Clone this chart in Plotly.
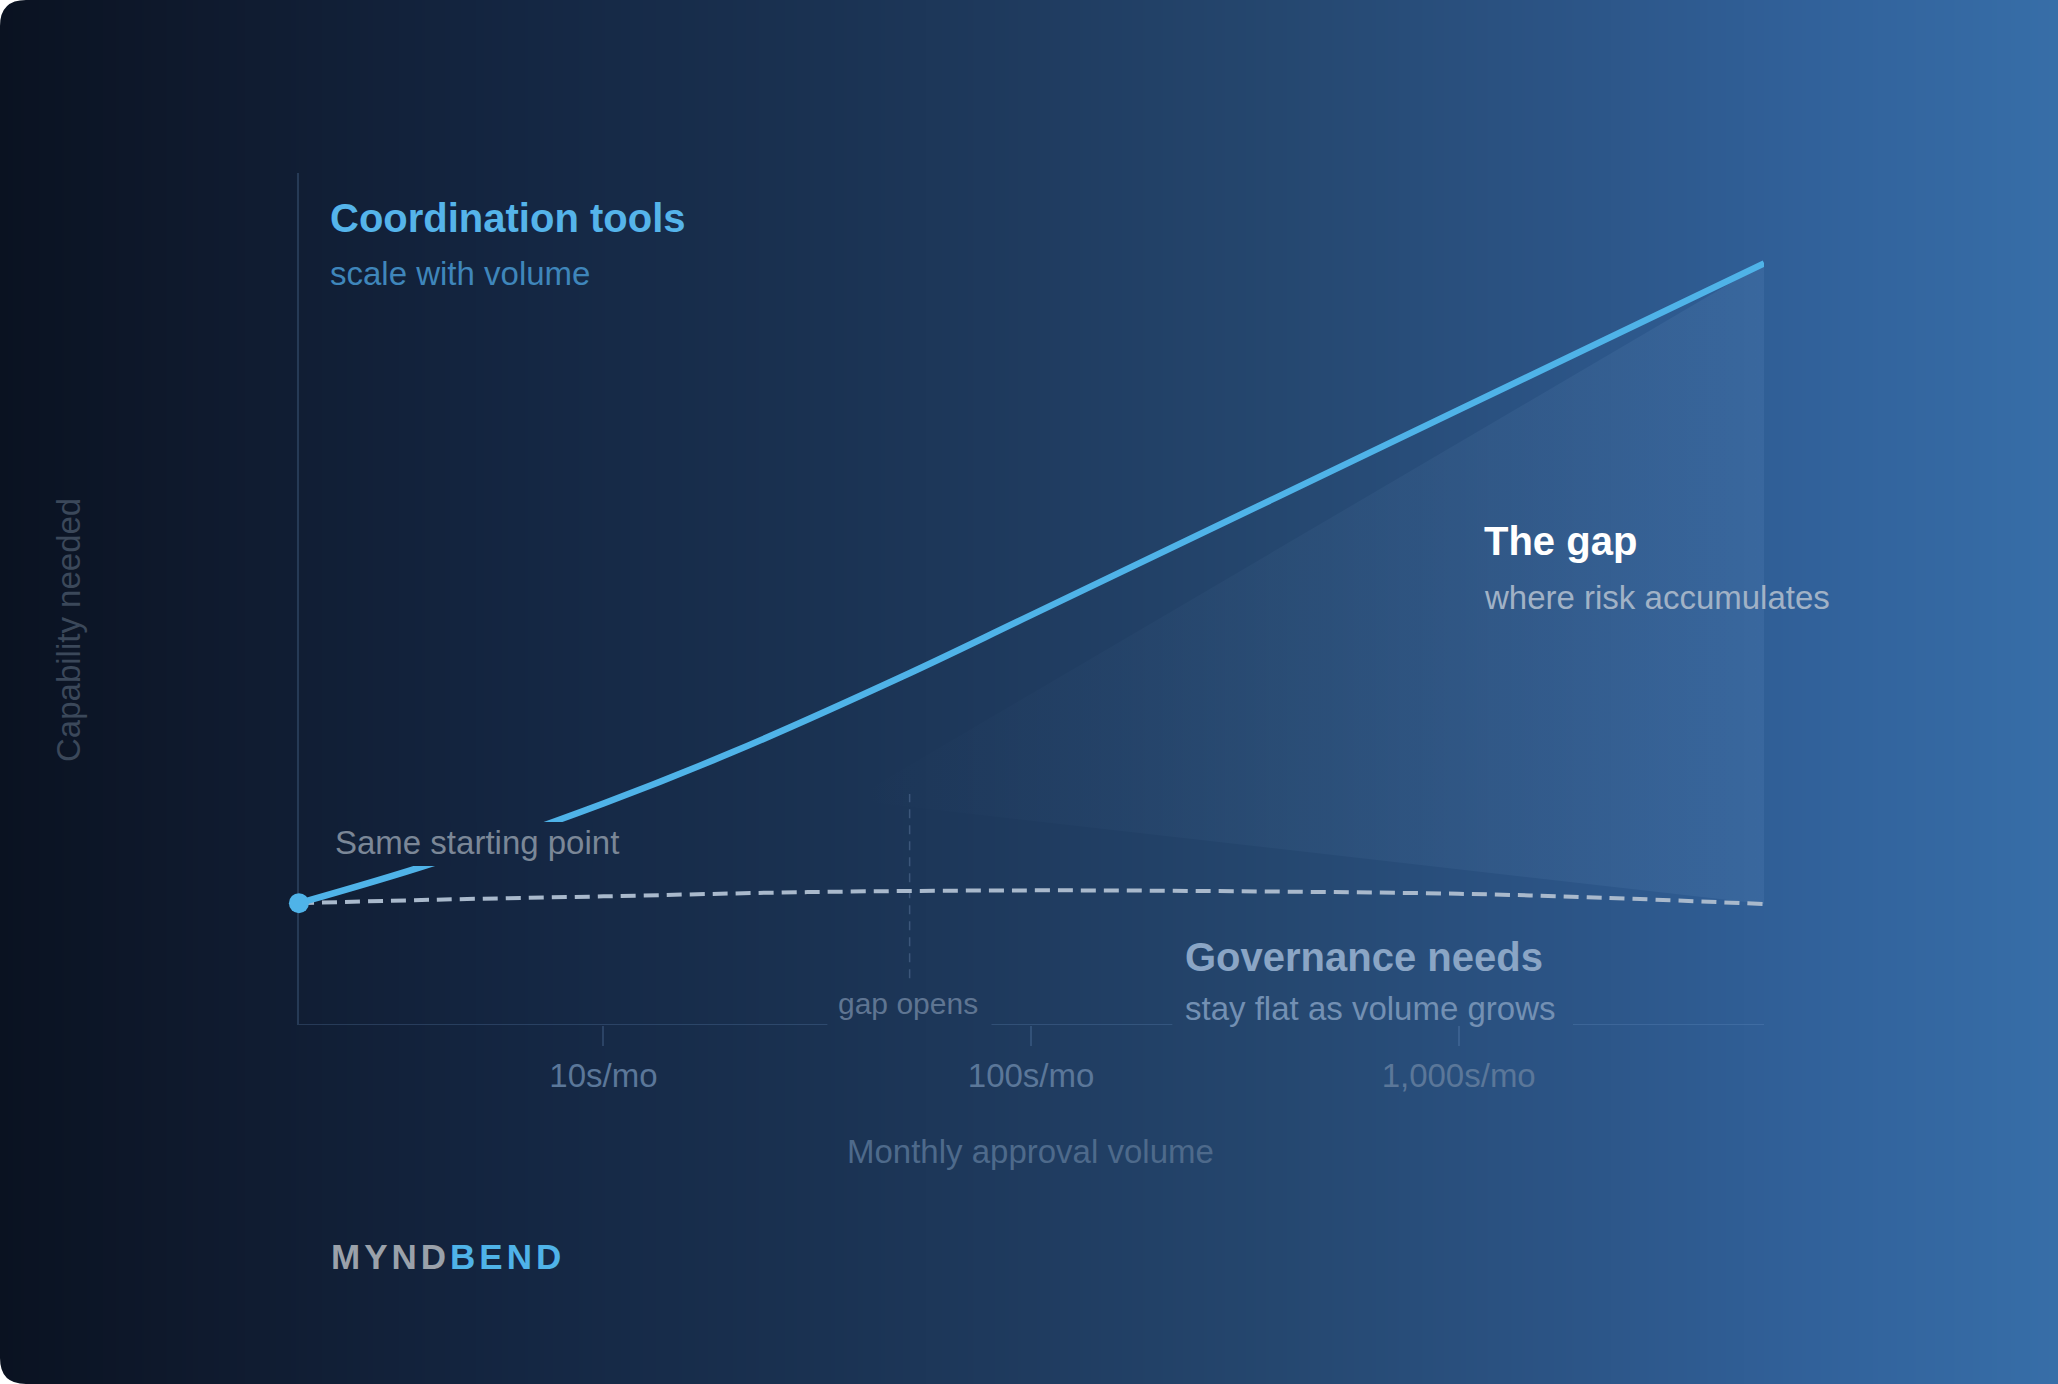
import numpy as np
import plotly.graph_objects as go

W, H = 2058, 1384

# monthly approval volume (log x) vs capability needed (0-100)
coord_vol = [1.94, 4, 10, 20, 50, 100, 1000, 5180]
coord_cap = [14.3, 19.0, 26.0, 32.0, 40.9, 48.1, 72.2, 89.4]

gov_vol = [1.94, 4, 10, 30, 100, 300, 1000, 2000, 5180]
gov_cap = [14.3, 14.7, 15.1, 15.6, 15.8, 15.7, 15.4, 15.0, 14.2]

gap_open_vol = 52
gap_open_cap = [5.5, 27.1]

gap_vol = [37.8, 5180, 5180]
gap_cap = [26.4, 89.4, 14.2]

tick_vals = [10, 100, 1000]
tick_text = ["10s/mo", "100s/mo", "1,000s/mo"]

FONT = "Liberation Sans, Arial, Helvetica, sans-serif"
BLUE = "#4fb3e8"

# background gradient, left -> right
bg_stops = [(0.0, "#0a1221"), (0.1, "#0f1a2e"), (0.25, "#142642"), (0.4, "#1a3252"),
            (0.5, "#1f3b5f"), (0.62, "#25476f"), (0.75, "#2b5384"), (0.88, "#31619a"),
            (1.0, "#376ea8")]
bg_scale = [[f, c] for f, c in bg_stops]

# plot area in page pixels
PX0, PX1, PY0, PY1 = 299, 1764, 173, 1025
XR = [0.288, 3.714]
YR = [0, 100]


def px(x):
    return x / W


def py(y):
    return 1 - y / H


fig = go.Figure()

gx = np.linspace(0, 1, 81)
fig.add_trace(go.Heatmap(
    x=gx, y=[0, 1], z=[gx, gx], zmin=0, zmax=1,
    colorscale=bg_scale, zsmooth="best", showscale=False, hoverinfo="skip",
    xaxis="x", yaxis="y"
))

# the gap
fig.add_trace(go.Scatter(
    x=gap_vol, y=gap_cap, fill="toself", mode="lines",
    line=dict(width=0),
    fillgradient=dict(type="horizontal",
                      colorscale=[[0, "rgba(140,185,230,0)"], [1, "rgba(140,185,230,0.10)"]]),
    hoverinfo="skip", showlegend=False, xaxis="x2", yaxis="y2"
))

fig.add_trace(go.Scatter(
    x=[gap_open_vol, gap_open_vol], y=gap_open_cap, mode="lines",
    line=dict(color="rgba(120,150,190,0.35)", width=1.5, dash="9px,7px"),
    hoverinfo="skip", showlegend=False, xaxis="x2", yaxis="y2"
))

fig.add_trace(go.Scatter(
    x=gov_vol, y=gov_cap, mode="lines", line_shape="spline",
    line=dict(color="#a9b9cc", width=4, dash="15px,8px"),
    showlegend=False, xaxis="x2", yaxis="y2"
))

fig.add_trace(go.Scatter(
    x=coord_vol, y=coord_cap, mode="lines", line_shape="spline",
    line=dict(color=BLUE, width=6.5),
    showlegend=False, xaxis="x2", yaxis="y2"
))

# patch of background behind "Same starting point" (hides the line there)
mask_x = [333, 628]
mask_y = [822, 866]
mx = np.linspace(px(mask_x[0]), px(mask_x[1]), 21)
fig.add_trace(go.Heatmap(
    x=mx, y=[0, 1], z=[mx, mx], zmin=0, zmax=1,
    colorscale=bg_scale, zsmooth="best", showscale=False, hoverinfo="skip",
    xaxis="x3", yaxis="y3"
))

# start marker on a slightly larger copy of the main axes so it is not clipped
pad = 24
kx = (XR[1] - XR[0]) / (PX1 - PX0)
ky = (YR[1] - YR[0]) / (PY1 - PY0)
fig.add_trace(go.Scatter(
    x=coord_vol[:1], y=coord_cap[:1], mode="markers",
    marker=dict(color=BLUE, size=20),
    showlegend=False, xaxis="x4", yaxis="y4"
))

# x axis line, broken behind the labels
axis_breaks = [(33.4, 80.8), (214, 1850)]
edges = [coord_vol[0]] + [v for b in axis_breaks for v in b] + [coord_vol[-1]]
for a, b in zip(edges[::2], edges[1::2]):
    fig.add_shape(type="line", xref="x2", yref="y2", x0=a, x1=b, y0=0, y1=0,
                  line=dict(color="rgba(120,160,210,0.22)", width=2))

# rounded left corners of the card
rx, ry = 26 / W, 26 / H
fig.add_shape(type="path", xref="paper", yref="paper", layer="above",
              path="M 0,1 L %f,1 Q 0,1 0,%f Z" % (rx, 1 - ry),
              fillcolor="white", line=dict(width=0))
fig.add_shape(type="path", xref="paper", yref="paper", layer="above",
              path="M 0,0 L %f,0 Q 0,0 0,%f Z" % (rx, ry),
              fillcolor="white", line=dict(width=0))


def label(text, x, y, size, color, bold=False, anchor="left", **kw):
    fig.add_annotation(
        text=text, x=px(x), y=py(y), xref="paper", yref="paper",
        xanchor=anchor, yanchor="middle", showarrow=False,
        font=dict(family=FONT, size=size, color=color, weight=700 if bold else 400),
        **kw
    )


label("Coordination tools", 328, 218, 40, "#55b4ea", bold=True)
label("scale with volume", 328, 273, 33, "#3f86bb")
label("The gap", 1482, 541, 40, "#ffffff", bold=True)
label("where risk accumulates", 1482, 597, 33, "#a1b2c6")
label("Same starting point", 333, 842, 33, "#7b8797")
label("gap opens", 908, 1003, 30, "#5f7592", anchor="center")
label("Governance needs", 1183, 957, 40, "#8aa5c5", bold=True)
label("stay flat as volume grows", 1183, 1008, 33, "#7390b3")
label("Monthly approval volume", 1030, 1151, 33, "#4e6a8b", anchor="center")
label("Capability needed", 68, 630, 33, "#3b485a", anchor="center", textangle=-90)
label("<span style='letter-spacing:4px;color:#9aa1aa'>MYND</span>"
      "<span style='letter-spacing:4px;color:#4fb3e8'>BEND</span>",
      329, 1256, 35, "#9aa1aa", bold=True)

fig.update_layout(
    width=W, height=H,
    margin=dict(l=0, r=0, t=0, b=0),
    paper_bgcolor="#0a1221", plot_bgcolor="rgba(0,0,0,0)",
    showlegend=False,
    xaxis=dict(domain=[0, 1], range=[0, 1], visible=False, fixedrange=True),
    yaxis=dict(domain=[0, 1], range=[0, 1], visible=False, fixedrange=True),
    xaxis2=dict(domain=[px(PX0), px(PX1)], anchor="y2", type="log", range=XR,
                showgrid=False, zeroline=False, showline=False,
                tickvals=tick_vals, ticktext=tick_text,
                ticks="outside", ticklen=20, tickwidth=2,
                tickcolor="rgba(120,160,210,0.22)",
                tickfont=dict(family=FONT, size=33, color="#5b7799"),
                ticklabelstandoff=1),
    yaxis2=dict(domain=[py(PY1), py(PY0)], anchor="x2", range=YR,
                showgrid=False, zeroline=False, showticklabels=False,
                showline=True, linewidth=2, linecolor="rgba(120,160,210,0.22)"),
    xaxis3=dict(domain=[px(mask_x[0]), px(mask_x[1])], anchor="y3",
                range=[px(mask_x[0]), px(mask_x[1])], visible=False, fixedrange=True),
    yaxis3=dict(domain=[py(mask_y[1]), py(mask_y[0])], anchor="x3",
                range=[0, 1], visible=False, fixedrange=True),
    xaxis4=dict(domain=[px(PX0 - pad), px(PX1)], anchor="y4", type="log",
                range=[XR[0] - pad * kx, XR[1]], visible=False, fixedrange=True),
    yaxis4=dict(domain=[py(PY1 + pad), py(PY0)], anchor="x4",
                range=[YR[0] - pad * ky, YR[1]], visible=False, fixedrange=True),
)

fig.write_html("out.html", config={"displayModeBar": False},
               post_script="document.body.style.margin='0';document.body.style.overflow='hidden';")
